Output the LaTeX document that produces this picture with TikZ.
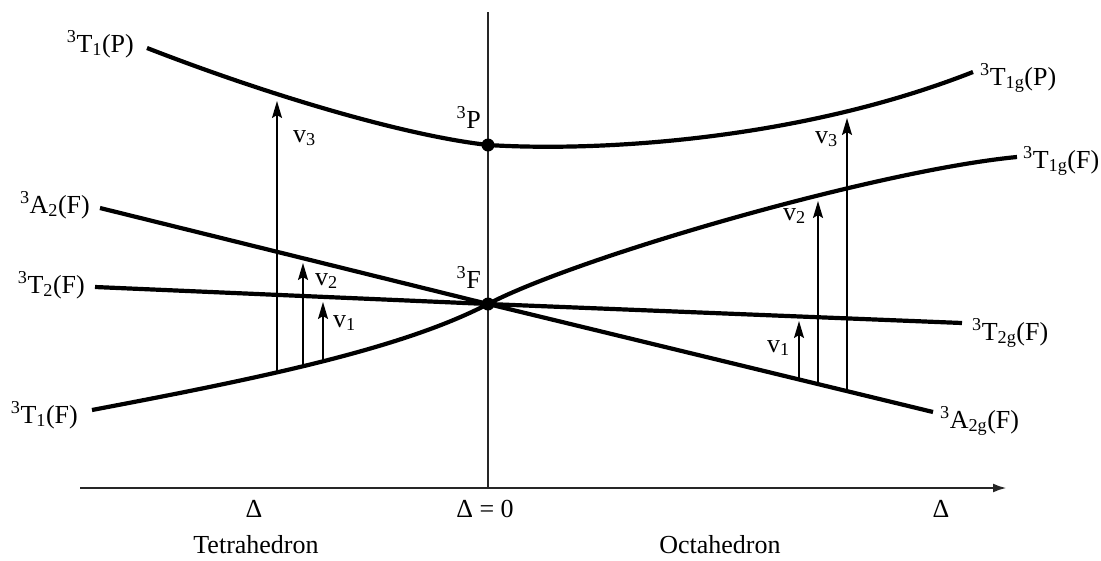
\documentclass[tikz,border=0pt]{standalone}
\usepackage{fontspec}
\setmainfont{Liberation Serif}
\usetikzlibrary{arrows.meta}
\begin{document}
\begin{tikzpicture}[x=1pt,y=-1pt,
  curve/.style={line width=4.2pt},
  axis/.style={line width=1.8pt, black!85},
  trans/.style={line width=1.8pt, -{Stealth[length=17pt,width=10pt,inset=3pt]}},
  lbl/.style={inner sep=0pt, font=\fontsize{26}{30}\selectfont},
  dot/.style={circle, fill=black, inner sep=0pt, minimum size=13pt}]
\useasboundingbox (0,0) rectangle (1101,560);
% axes
\coordinate (vtop) at (488,12);
\coordinate (vbot) at (488,488);
\coordinate (hl) at (80,488);
\coordinate (hr) at (1007,488);
\draw[axis] (vtop) -- (vbot);
\draw[line width=2.6pt, black!85, -{Latex[length=14pt,width=9pt]}] (hl) -- (hr);
% key points
\node[dot] (P) at (488,145) {};
\node[dot] (F) at (488,304) {};
\coordinate (TPl) at (147,48);
\coordinate (TPr) at (973,72);
\coordinate (TFl) at (92,410);
\coordinate (TFr) at (1017,157);
\coordinate (Al) at (100,208);
\coordinate (Ar) at (933,412);
\coordinate (Tl) at (95,287);
\coordinate (Tr) at (962,323);
% curves
\draw[curve] (TPl) .. controls (260,92) and (400,135) .. (P.center)
             .. controls (600,152) and (800,140) .. (TPr);
\draw[curve] (TFl) .. controls (250,380) and (400,350) .. (F.center)
             .. controls (580,256) and (880,170) .. (TFr);
\draw[curve] (Al) -- (F.center) -- (Ar);
\draw[curve] (Tl) -- (F.center) -- (Tr);
% transition arrows
\coordinate (a3s) at (277,373); \coordinate (a3e) at (277,101);
\coordinate (a2s) at (303,367); \coordinate (a2e) at (303,263);
\coordinate (a1s) at (323,362); \coordinate (a1e) at (323,302);
\coordinate (b1s) at (799,379); \coordinate (b1e) at (799,321);
\coordinate (b2s) at (818,384); \coordinate (b2e) at (818,201);
\coordinate (b3s) at (847,391); \coordinate (b3e) at (847,118);
\draw[trans] (a3s) -- (a3e);
\draw[trans] (a2s) -- (a2e);
\draw[trans] (a1s) -- (a1e);
\draw[trans] (b1s) -- (b1e);
\draw[trans] (b2s) -- (b2e);
\draw[trans] (b3s) -- (b3e);
% state labels
\node[lbl, anchor=base east] (lTP) at (134,52) {\textsuperscript{3}T\textsubscript{1}(P)};
\node[lbl, anchor=base east] (lA) at (90,213) {\textsuperscript{3}A\textsubscript{2}(F)};
\node[lbl, anchor=base east] (lT) at (85,293) {\textsuperscript{3}T\textsubscript{2}(F)};
\node[lbl, anchor=base east] (lTF) at (78,423) {\textsuperscript{3}T\textsubscript{1}(F)};
\node[lbl, anchor=base east] (lP) at (481,128) {\textsuperscript{3}P};
\node[lbl, anchor=base east] (lF) at (481,288) {\textsuperscript{3}F};
\node[lbl, anchor=base west] (rTP) at (980,85) {\textsuperscript{3}T\textsubscript{1g}(P)};
\node[lbl, anchor=base west] (rTF) at (1023,168) {\textsuperscript{3}T\textsubscript{1g}(F)};
\node[lbl, anchor=base west] (rT) at (972,340) {\textsuperscript{3}T\textsubscript{2g}(F)};
\node[lbl, anchor=base west] (rA) at (940,428) {\textsuperscript{3}A\textsubscript{2g}(F)};
% transition labels
\node[lbl, anchor=base west] (nl3) at (293,142) {v\textsubscript{3}};
\node[lbl, anchor=base west] (nl2) at (315,285) {v\textsubscript{2}};
\node[lbl, anchor=base west] (nl1) at (333,327) {v\textsubscript{1}};
\node[lbl, anchor=base west] (nr3) at (815,143) {v\textsubscript{3}};
\node[lbl, anchor=base west] (nr2) at (783,220) {v\textsubscript{2}};
\node[lbl, anchor=base west] (nr1) at (767,352) {v\textsubscript{1}};
% axis labels
\node[lbl, anchor=base] (d1) at (254,517) {Δ};
\node[lbl, anchor=base] (d0) at (485,517) {Δ = 0};
\node[lbl, anchor=base] (d2) at (941,517) {Δ};
\node[lbl, anchor=base] (tet) at (256,553) {Tetrahedron};
\node[lbl, anchor=base] (oct) at (720,553) {Octahedron};
\end{tikzpicture}
\end{document}
